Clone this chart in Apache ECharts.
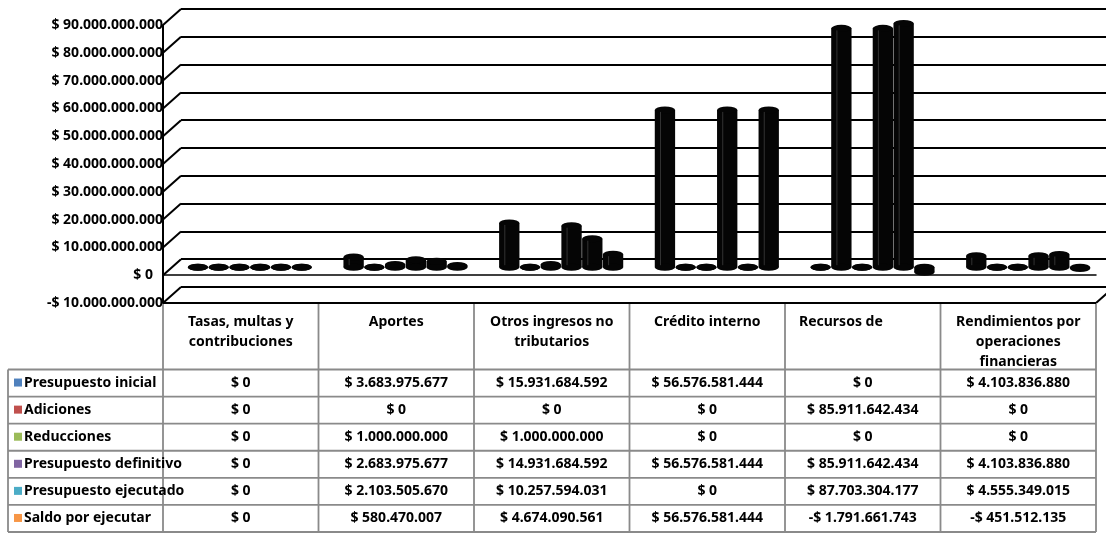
<!DOCTYPE html>
<html><head><meta charset="utf-8">
<script src="https://cdn.jsdelivr.net/npm/echarts@6/dist/echarts.min.js"></script>
<style>html,body{margin:0;padding:0;background:#fff}#c{width:1106px;height:533px}</style>
</head><body><div id="c"></div>
<script>
// ---------- DATA ----------
const categories = ['Tasas, multas y\ncontribuciones', 'Aportes', 'Otros ingresos no\ntributarios', 'Crédito interno', 'Recursos de', 'Rendimientos por\noperaciones\nfinancieras'];
const seriesNames = ['Presupuesto inicial', 'Adiciones', 'Reducciones', 'Presupuesto definitivo', 'Presupuesto ejecutado', 'Saldo por ejecutar'];
const presupuestoInicial   = [0, 3683975677, 15931684592, 56576581444, 0, 4103836880];
const adiciones            = [0, 0, 0, 0, 85911642434, 0];
const reducciones          = [0, 1000000000, 1000000000, 0, 0, 0];
const presupuestoDefinitivo= [0, 2683975677, 14931684592, 56576581444, 85911642434, 4103836880];
const presupuestoEjecutado = [0, 2103505670, 10257594031, 0, 87703304177, 4555349015];
const saldoPorEjecutar     = [0, 580470007, 4674090561, 56576581444, -1791661743, -451512135];
const seriesValues = [presupuestoInicial, adiciones, reducciones, presupuestoDefinitivo, presupuestoEjecutado, saldoPorEjecutar];
const yMin = -10000000000, yMax = 90000000000, yStep = 10000000000;

// ---------- STYLE ----------
const keyColors = ['#4F81BD', '#C0504D', '#9BBB59', '#8064A2', '#4BACC6', '#F79646'];
const headerAlign = ['center', 'center', 'center', 'center', 'left', 'center'];
const FONT = 'Noto Sans';
const FS = 14;
const GRID_W = 2;

function fmtMoney(v) {
  const s = String(Math.abs(Math.round(v))).replace(/\B(?=(\d{3})+(?!\d))/g, '.');
  return (v < 0 ? '-$ ' : '$ ') + s;
}

const chart = echarts.init(document.getElementById('c'));
const n = seriesNames.length;

function renderCyl(params, api) {
  const s = params.seriesIndex;
  const cat = api.value(0), v = api.value(1);
  const p0 = api.coord([cat, 0]), p1 = api.coord([cat, v]);
  const band = api.size([1, 0])[0];
  const groupW = band * 0.8, slot = groupW / n;
  const bw = slot * 0.98;
  const x = p0[0] - groupW / 2 + slot * s + (slot - bw) / 2;
  const rx = bw / 2, ry = 3.5;
  const yTop = Math.min(p0[1], p1[1]), h = Math.abs(p0[1] - p1[1]);
  return {
    type: 'group', children: [
      { type: 'rect', shape: { x: x, y: yTop, width: bw, height: h }, style: { fill: '#050505' } },
      { type: 'circle', shape: { cx: 0, cy: 0, r: rx }, x: x + rx, y: p0[1], scaleY: ry / rx, style: { fill: '#050505' } },
      { type: 'circle', shape: { cx: 0, cy: 0, r: rx }, x: x + rx, y: p1[1], scaleY: ry / rx, style: { fill: '#050505' } },
      { type: 'line', shape: { x1: x + bw * 0.28, y1: yTop + 2, x2: x + bw * 0.28, y2: yTop + h - 2 }, style: { stroke: h > 8 ? '#333' : 'transparent', lineWidth: 1 } }
    ]
  };
}

const valAxisBase = { type: 'value', min: yMin, max: yMax, interval: yStep };

const option = {
  animation: false,
  backgroundColor: '#fff',
  grid: [
    { left: 181, right: 0, top: 9, height: 278 },     // back wall
    { left: 172, width: 935, top: 17, height: 278 },  // bars (mid depth)
    { left: 163, width: 933, top: 25, height: 278 }   // front
  ],
  xAxis: [
    { type: 'category', gridIndex: 0, data: categories, show: false },
    { type: 'category', gridIndex: 1, data: categories, show: false },
    { type: 'category', gridIndex: 2, data: categories, axisLine: { show: true, onZero: true, lineStyle: { color: '#000', width: 1.5 } }, axisTick: { show: false }, axisLabel: { show: false }, splitLine: { show: false } }
  ],
  yAxis: [
    Object.assign({ gridIndex: 0, axisLine: { show: false }, axisTick: { show: false }, axisLabel: { show: false }, splitLine: { show: true, lineStyle: { color: '#000', width: GRID_W } } }, valAxisBase),
    Object.assign({ gridIndex: 1, show: false, splitLine: { show: false } }, valAxisBase),
    Object.assign({
      gridIndex: 2,
      axisLine: { show: true, lineStyle: { color: '#000', width: GRID_W } },
      axisTick: { show: false },
      splitLine: { show: false },
      axisLabel: {
        margin: 0, color: '#000', fontFamily: FONT, fontWeight: 'bold', fontSize: FS,
        formatter: function (v) { return v === 0 ? '{z|$ 0}' : fmtMoney(v); },
        rich: { z: { padding: [0, 10, 0, 0], color: '#000', fontFamily: FONT, fontWeight: 'bold', fontSize: FS } }
      }
    }, valAxisBase)
  ],
  series: seriesNames.map(function (name, si) {
    return {
      type: 'custom', name: name, xAxisIndex: 1, yAxisIndex: 1,
      renderItem: renderCyl,
      encode: { x: 0, y: 1 },
      clip: false,
      z: 5,
      data: seriesValues[si].map(function (v, i) { return [i, v]; })
    };
  })
};
chart.setOption(option);

// ---------- perspective edges & data table ----------
const gfx = [];
const yF = function (v) { return chart.convertToPixel({ yAxisIndex: 2 }, v); };
const yB = function (v) { return chart.convertToPixel({ yAxisIndex: 0 }, v); };
const xF0 = 163, xB0 = 181, xF1 = 1096;
for (let v = yMin; v <= yMax; v += yStep) {
  gfx.push({ type: 'line', z: 3, shape: { x1: xF0, y1: yF(v), x2: xB0, y2: yB(v) }, style: { stroke: '#000', lineWidth: GRID_W } });
}
// floor front edge and right corner
gfx.push({ type: 'line', z: 12, shape: { x1: xF0, y1: yF(yMin), x2: xF1, y2: yF(yMin) }, style: { stroke: '#000', lineWidth: GRID_W } });
gfx.push({ type: 'line', z: 12, shape: { x1: xF1, y1: yF(yMin), x2: xF1 + (xB0 - xF0), y2: yB(yMin) }, style: { stroke: '#000', lineWidth: GRID_W } });

const T = { left: 8, col0: 163, right: 1096, top: yF(yMin), headBottom: 369.5, bottom: 532 };
const nc = categories.length;
const colW = (T.right - T.col0) / nc;
const rowH = (T.bottom - T.headBottom) / n;
const GRAY = '#8a8a8a';
for (let r = 0; r <= n; r++) {
  const y = T.headBottom + r * rowH;
  gfx.push({ type: 'line', z: 10, shape: { x1: T.left, y1: y, x2: T.right, y2: y }, style: { stroke: GRAY, lineWidth: 1.8 } });
}
gfx.push({ type: 'line', z: 10, shape: { x1: T.left, y1: T.headBottom, x2: T.left, y2: T.bottom }, style: { stroke: GRAY, lineWidth: 1.8 } });
for (let c = 0; c <= nc; c++) {
  const x = T.col0 + c * colW;
  gfx.push({ type: 'line', z: 10, shape: { x1: x, y1: T.top + 1, x2: x, y2: T.bottom }, style: { stroke: GRAY, lineWidth: 1.8 } });
}
const txt = function (text, x, y, align, vAlign) {
  return { type: 'text', z: 20, x: x, y: y, style: { text: text, fill: '#000', fontFamily: FONT, fontWeight: 'bold', fontSize: FS, align: align, verticalAlign: vAlign, lineHeight: 20 } };
};
categories.forEach(function (cat, c) {
  const x0 = T.col0 + c * colW;
  const al = headerAlign[c];
  gfx.push(txt(cat, al === 'left' ? x0 + 14 : x0 + colW / 2, 312, al, 'top'));
});
seriesNames.forEach(function (name, r) {
  const yc = T.headBottom + r * rowH + rowH / 2;
  gfx.push({ type: 'rect', z: 20, shape: { x: 14, y: yc - 4.5, width: 8, height: 8 }, style: { fill: keyColors[r] } });
  gfx.push(txt(name, 24, yc, 'left', 'middle'));
  seriesValues[r].forEach(function (v, c) {
    gfx.push(txt(fmtMoney(v), T.col0 + c * colW + colW / 2, yc, 'center', 'middle'));
  });
});
chart.setOption({ graphic: gfx });
</script></body></html>
